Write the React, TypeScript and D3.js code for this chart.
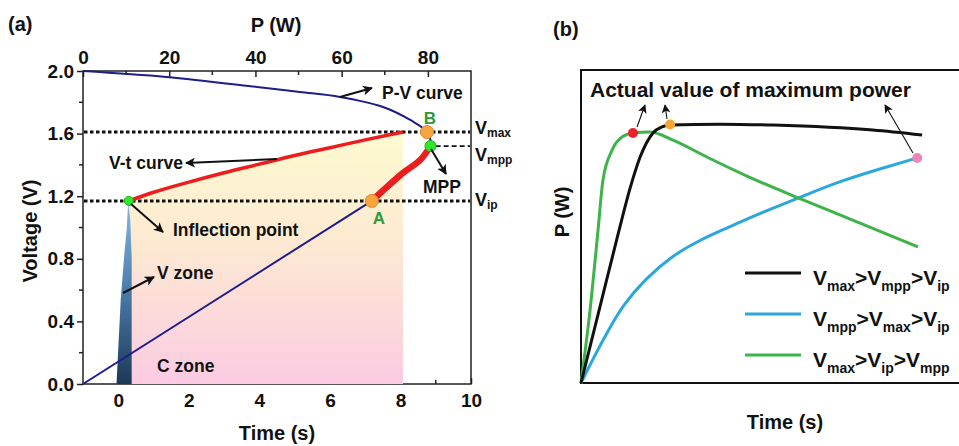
import React, { useRef, useEffect } from "react";
import * as d3 from "d3";

// ---- panel (a) data ----
const pTicks = [0, 20, 40, 60, 80];
const vTicks = [0.0, 0.4, 0.8, 1.2, 1.6, 2.0];
const tTicks = [0, 2, 4, 6, 8, 10];

// P-V curve (P in W on top axis, V in volts)
const pvP = [0, 19.3, 40.4, 50.3, 59.6, 69.6, 75.9, 79.8, 80.6];
const pvV = [2.0, 1.962, 1.898, 1.866, 1.834, 1.77, 1.687, 1.61, 1.52];
// thick red part of the P-V curve, MPP -> A
const mppP = [80.6, 78.2, 74.2, 67.0];
const mppV = [1.52, 1.431, 1.348, 1.17];
// straight lower branch, A -> origin
const lowP = [67.0, 0];
const lowV = [1.17, 0];

// V-t curve (time in s on bottom axis)
const vtT = [0.3, 1, 2, 3, 4, 5, 6, 7, 8.07];
const vtV = [1.17, 1.225, 1.29, 1.35, 1.405, 1.46, 1.51, 1.56, 1.61];

// V zone outline
const vzT = [-0.05, 0.07, 0.18, 0.24, 0.28, 0.34, 0.38, 0.38];
const vzV = [0, 0.54, 0.85, 0.99, 1.165, 1.05, 0.8, 0];

const vMax = 1.61;
const vMpp = 1.52;
const vIp = 1.17;

// ---- panel (b) data ----
const blackT = [0, 0.5, 1.0, 1.29, 1.56, 1.9, 2.14, 2.35, 3.67, 5.07, 7.7, 9.0];
const blackP = [0, 0.243, 0.486, 0.62, 0.722, 0.799, 0.818, 0.824, 0.827, 0.824, 0.808, 0.792];
const greenT = [0, 0.26, 0.45, 0.58, 0.82, 1.08, 1.37, 1.82, 2.43, 3.32, 4.38, 5.86, 7.28, 8.89];
const greenP = [0, 0.256, 0.489, 0.649, 0.744, 0.786, 0.799, 0.802, 0.776, 0.722, 0.661, 0.585, 0.515, 0.435];
const cyanT = [0, 0.37, 0.77, 1.11, 1.69, 2.43, 3.14, 3.85, 4.38, 5.07, 5.86, 6.83, 7.97, 8.87];
const cyanP = [0, 0.09, 0.179, 0.249, 0.332, 0.409, 0.457, 0.495, 0.524, 0.559, 0.597, 0.645, 0.687, 0.719];

const legendRows = [
  { color: "#111111", parts: [["V", 0], ["max", 1], [">V", 0], ["mpp", 1], [">V", 0], ["ip", 1]] },
  { color: "#2aa7df", parts: [["V", 0], ["mpp", 1], [">V", 0], ["max", 1], [">V", 0], ["ip", 1]] },
  { color: "#3db34a", parts: [["V", 0], ["max", 1], [">V", 0], ["ip", 1], [">V", 0], ["mpp", 1]] },
];

const W = 959;
const H = 446;

const subText = (g, x, y, parts, big, small, shift) => {
  const t = g.append("text").attr("x", x).attr("y", y);
  let cur = 0;
  parts.forEach(([s, sub]) => {
    const target = sub ? shift : 0;
    t.append("tspan")
      .attr("dy", target - cur)
      .attr("font-size", sub ? small : big)
      .text(s);
    cur = target;
  });
  return t;
};

const App = () => {
  const ref = useRef<SVGSVGElement>(null);

  useEffect(() => {
    const svg = d3.select(ref.current);
    svg.selectAll("*").remove();
    svg
      .attr("font-family", "'Liberation Sans', Arial, sans-serif")
      .attr("font-weight", "bold")
      .attr("fill", "#111");

    const defs = svg.append("defs");
    const mk = (id, size) =>
      defs
        .append("marker")
        .attr("id", id)
        .attr("viewBox", "0 0 10 10")
        .attr("refX", 9)
        .attr("refY", 5)
        .attr("markerWidth", size)
        .attr("markerHeight", size)
        .attr("orient", "auto")
        .append("path")
        .attr("d", "M0,0L10,5L0,10L2.5,5z")
        .attr("fill", "#111");
    mk("ah", 5);
    mk("ahs", 8);

    // ---------- panel (a) ----------
    const L = 83, R = 471, T = 71, B = 384;
    const xT = d3.scaleLinear().domain([-1, 10]).range([L, R]);
    const xP = d3.scaleLinear().domain([0, 90]).range([L, R]);
    const y = d3.scaleLinear().domain([0, 2]).range([B, T]);

    const fg = defs
      .append("linearGradient")
      .attr("id", "fillGrad")
      .attr("gradientUnits", "userSpaceOnUse")
      .attr("x1", 0).attr("x2", 0)
      .attr("y1", y(1.62)).attr("y2", y(0));
    fg.append("stop").attr("offset", 0).attr("stop-color", "#fdfbd0");
    fg.append("stop").attr("offset", 0.45).attr("stop-color", "#fde9d2");
    fg.append("stop").attr("offset", 1).attr("stop-color", "#fbcbe2");

    const vg = defs
      .append("linearGradient")
      .attr("id", "vzGrad")
      .attr("gradientUnits", "userSpaceOnUse")
      .attr("x1", 0).attr("x2", 0)
      .attr("y1", y(1.17)).attr("y2", y(0));
    vg.append("stop").attr("offset", 0).attr("stop-color", "#86b9e4");
    vg.append("stop").attr("offset", 0.5).attr("stop-color", "#4a7ba8");
    vg.append("stop").attr("offset", 1).attr("stop-color", "#1c3957");

    const ga = svg.append("g");
    ga.append("rect")
      .attr("x", L).attr("y", T)
      .attr("width", R - L).attr("height", B - T)
      .attr("fill", "none").attr("stroke", "#222").attr("stroke-width", 1.5);

    const styleAxis = (g) => {
      g.attr("font-family", null).attr("font-size", 19).attr("font-weight", "bold");
      g.select(".domain").remove();
      g.selectAll("line").attr("stroke", "#222").attr("stroke-width", 1.5);
      g.selectAll("text").attr("fill", "#111");
    };

    ga.append("g")
      .attr("transform", `translate(${L},0)`)
      .call(d3.axisLeft(y).tickValues(vTicks).tickFormat(d3.format(".1f")).tickSize(6).tickPadding(3))
      .call(styleAxis);
    ga.append("g")
      .attr("transform", `translate(0,${T})`)
      .call(d3.axisTop(xP).tickValues(pTicks).tickSizeInner(-6).tickSizeOuter(0).tickPadding(7))
      .call(styleAxis);
    ga.append("g")
      .attr("transform", `translate(0,${B})`)
      .call(d3.axisBottom(xT).tickValues(tTicks).tickSizeInner(-6).tickSizeOuter(0).tickPadding(10))
      .call(styleAxis);

    // minor ticks
    [0.2, 0.6, 1.0, 1.4, 1.8].forEach((v) =>
      ga.append("line").attr("x1", L - 4).attr("x2", L).attr("y1", y(v)).attr("y2", y(v)).attr("stroke", "#222").attr("stroke-width", 1.5)
    );
    [10, 30, 50, 70].forEach((p) =>
      ga.append("line").attr("x1", xP(p)).attr("x2", xP(p)).attr("y1", T).attr("y2", T + 4).attr("stroke", "#222").attr("stroke-width", 1.5)
    );
    [1, 3, 5, 7, 9].forEach((t) =>
      ga.append("line").attr("x1", xT(t)).attr("x2", xT(t)).attr("y1", B).attr("y2", B - 4).attr("stroke", "#222").attr("stroke-width", 1.5)
    );

    // shaded region under V-t curve
    const vt = vtT.map((t, i) => [t, vtV[i]]);
    ga.append("path")
      .datum(vt)
      .attr("d", d3.area().x((d) => xT(d[0])).y0(y(0)).y1((d) => y(d[1])).curve(d3.curveMonotoneX))
      .attr("fill", "url(#fillGrad)");

    // V zone
    ga.append("path")
      .datum(vzT.map((t, i) => [t, vzV[i]]))
      .attr("d", d3.line().x((d) => xT(d[0])).y((d) => y(d[1])).curve(d3.curveLinearClosed))
      .attr("fill", "url(#vzGrad)");

    // horizontal reference lines
    [vMax, vIp].forEach((v) =>
      ga.append("line")
        .attr("x1", L + 1).attr("x2", R - 1).attr("y1", y(v)).attr("y2", y(v))
        .attr("stroke", "#111").attr("stroke-width", 3).attr("stroke-dasharray", "3.5,2.5")
    );
    ga.append("line")
      .attr("x1", xP(81.8)).attr("x2", R - 1).attr("y1", y(vMpp)).attr("y2", y(vMpp))
      .attr("stroke", "#111").attr("stroke-width", 1.8).attr("stroke-dasharray", "5,3");

    // P-V curve
    const pvLine = d3.line().x((d) => xP(d[0])).y((d) => y(d[1])).curve(d3.curveCatmullRom);
    ga.append("path")
      .datum([...pvP.map((p, i) => [p, pvV[i]]), ...mppP.slice(1).map((p, i) => [p, mppV[i + 1]])])
      .attr("d", pvLine)
      .attr("fill", "none").attr("stroke", "#1d1d8c").attr("stroke-width", 2);
    ga.append("path")
      .datum(lowP.map((p, i) => [p, lowV[i]]))
      .attr("d", d3.line().x((d) => xP(d[0])).y((d) => y(d[1])))
      .attr("fill", "none").attr("stroke", "#1d1d8c").attr("stroke-width", 2);
    ga.append("path")
      .datum(mppP.map((p, i) => [p, mppV[i]]))
      .attr("d", pvLine)
      .attr("fill", "none").attr("stroke", "#ee1c1c").attr("stroke-width", 6.5);

    // V-t curve
    ga.append("path")
      .datum(vt)
      .attr("d", d3.line().x((d) => xT(d[0])).y((d) => y(d[1])).curve(d3.curveMonotoneX))
      .attr("fill", "none").attr("stroke", "#ee1c1c").attr("stroke-width", 3.5);

    // markers
    const dot = (cx, cy, r, fill, stroke) =>
      ga.append("circle").attr("cx", cx).attr("cy", cy).attr("r", r).attr("fill", fill).attr("stroke", stroke).attr("stroke-width", 1);
    dot(xP(79.8), y(vMax), 6.5, "#f7a540", "#e08a2a");
    dot(xP(67.0), y(vIp), 6.5, "#f7a540", "#e08a2a");
    dot(xP(80.6), y(vMpp), 5.5, "#2ee82e", "#1ab01a");
    dot(xT(0.3), y(vIp), 4.5, "#2ee82e", "#1ab01a");

    // arrows
    const arrow = (g, x1, y1, x2, y2, w, m) =>
      g.append("line")
        .attr("x1", x1).attr("y1", y1).attr("x2", x2).attr("y2", y2)
        .attr("stroke", "#111").attr("stroke-width", w)
        .attr("marker-end", `url(#${m})`);
    arrow(ga, 340, 97, 372, 88, 2, "ah");
    arrow(ga, 277, 159, 186, 163, 2, "ah");
    arrow(ga, 131, 204, 163, 232, 2, "ah");
    arrow(ga, 123, 293, 154, 277, 2, "ah");
    arrow(ga, 431, 149, 446, 174, 2, "ah");

    const lab = (x, yy, s, color = "#111", size = 17.5, anchor = "start") =>
      ga.append("text").attr("x", x).attr("y", yy).attr("font-size", size).attr("fill", color).attr("text-anchor", anchor).text(s);
    lab(382, 99, "P-V curve");
    lab(109, 169, "V-t curve");
    lab(173, 236, "Inflection point");
    lab(157, 279, "V zone");
    lab(157, 372, "C zone");
    lab(423, 193, "MPP");
    lab(379, 224, "A", "#2e9a3a", 17, "middle");
    lab(430, 124, "B", "#2e9a3a", 17, "middle");

    subText(ga, 475, 134, [["V", 0], ["max", 1]], 18, 12, 3);
    subText(ga, 475, 161, [["V", 0], ["mpp", 1]], 18, 12, 3);
    subText(ga, 475, 206, [["V", 0], ["ip", 1]], 18, 12, 3);

    lab(8, 31, "(a)", "#111", 20);
    lab(276, 32, "P (W)", "#111", 20, "middle");
    lab(277, 440, "Time (s)", "#111", 20, "middle");
    ga.append("text")
      .attr("transform", `translate(37,231) rotate(-90)`)
      .attr("text-anchor", "middle").attr("font-size", 20)
      .text("Voltage (V)");

    // ---------- panel (b) ----------
    const gb = svg.append("g");
    const bL = 581, bT = 70, bB = 383, bR = 960;
    const xb = d3.scaleLinear().domain([0, 10]).range([bL, bR]);
    const yb = d3.scaleLinear().domain([0, 1]).range([bB, bT]);

    gb.append("path")
      .attr("d", `M${bR},${bT}H${bL}V${bB}H${bR}`)
      .attr("fill", "none").attr("stroke", "#111").attr("stroke-width", 2);

    const lineB = d3.line().x((d) => xb(d[0])).y((d) => yb(d[1])).curve(d3.curveMonotoneX);
    const lineSmooth = d3.line().x((d) => xb(d[0])).y((d) => yb(d[1])).curve(d3.curveBasis);
    [
      [cyanT, cyanP, "#2aa7df", lineSmooth],
      [greenT, greenP, "#3db34a", lineB],
      [blackT, blackP, "#111111", lineB],
    ].forEach(([ts, ps, c, gen]) =>
      gb.append("path")
        .datum(ts.map((t, i) => [t, ps[i]]))
        .attr("d", gen)
        .attr("fill", "none").attr("stroke", c).attr("stroke-width", 3)
    );

    gb.append("circle").attr("cx", xb(1.37)).attr("cy", yb(0.799)).attr("r", 5).attr("fill", "#e8232a");
    gb.append("circle").attr("cx", xb(2.35)).attr("cy", yb(0.826)).attr("r", 5).attr("fill", "#f7a731");
    gb.append("circle").attr("cx", xb(8.87)).attr("cy", yb(0.719)).attr("r", 5).attr("fill", "#f283b6");

    arrow(gb, 637, 127, 645, 105, 1.1, "ahs");
    arrow(gb, 667, 119, 665, 105, 1.1, "ahs");
    arrow(gb, 913, 153, 885, 105, 1.1, "ahs");

    gb.append("text").attr("x", 590).attr("y", 97).attr("font-size", 21).text("Actual value of maximum power");

    legendRows.forEach((row, i) => {
      const ly = 273 + i * 41;
      gb.append("line").attr("x1", 745).attr("x2", 801).attr("y1", ly).attr("y2", ly)
        .attr("stroke", row.color).attr("stroke-width", 3);
      subText(gb, 813, ly + 12, row.parts, 21, 14, 6);
    });

    gb.append("text").attr("x", 553).attr("y", 36).attr("font-size", 20).text("(b)");
    gb.append("text").attr("x", 785).attr("y", 429).attr("font-size", 20).attr("text-anchor", "middle").text("Time (s)");
    gb.append("text")
      .attr("transform", `translate(569,212) rotate(-90)`)
      .attr("text-anchor", "middle").attr("font-size", 20)
      .text("P (W)");
  }, []);

  return (
    <svg
      ref={ref}
      width={W}
      height={H}
      style={{ position: "absolute", left: 0, top: 0, background: "#fff" }}
    ></svg>
  );
};

export default App;
